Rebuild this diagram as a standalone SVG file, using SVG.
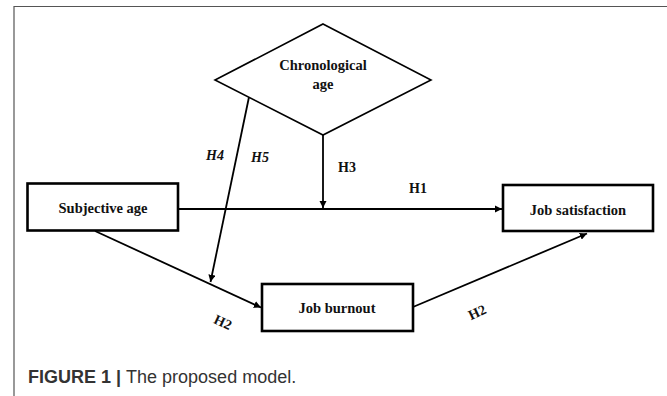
<svg xmlns="http://www.w3.org/2000/svg" width="667" height="396" viewBox="0 0 667 396">
<style>
.box{fill:#fff;stroke:#000;stroke-width:2.6}
.lbl{font-family:"Liberation Serif",serif;font-weight:bold;font-size:14.5px;fill:#111;text-anchor:middle}
.h{font-family:"Liberation Serif",serif;font-weight:bold;font-size:14px;fill:#111;text-anchor:middle}
.ln{stroke:#000;stroke-width:1.8;fill:none;marker-end:url(#ah)}
</style>
<defs>
<marker id="ah" viewBox="0 0 10 10" refX="10" refY="5" markerWidth="4" markerHeight="4" orient="auto" markerUnits="strokeWidth">
<path d="M0,0 L10,5 L0,10 z" fill="#000"/>
</marker>
</defs>
<rect width="667" height="396" fill="#fff"/>
<path d="M14,396 V6.5 H667" fill="none" stroke="#555" stroke-width="1.2"/>
<g id="connectors">
<line class="ln" x1="179" y1="209" x2="502" y2="209"/>
<line class="ln" x1="323" y1="135" x2="323" y2="208"/>
<line class="ln" x1="249" y1="97" x2="210.5" y2="282"/>
<line class="ln" x1="95" y1="231" x2="261" y2="307.5"/>
<line class="ln" x1="413" y1="307" x2="587" y2="233.5"/>
<text class="h" x="418" y="193">H1</text>
<text class="h" x="347" y="172">H3</text>
<text class="h" x="215" y="160" font-style="italic">H4</text>
<text class="h" x="260" y="162" font-style="italic">H5</text>
<text class="h" transform="translate(223,322) rotate(25)" y="5">H2</text>
<text class="h" transform="translate(477,312) rotate(-25)" y="5">H2</text>
</g>
<g id="chronological-age">
<polygon points="323,24 431,80 323,135 215,80" fill="#fff" stroke="#000" stroke-width="1.6"/>
<text class="lbl" x="323" y="70">Chronological</text>
<text class="lbl" x="323" y="89">age</text>
</g>
<g id="subjective-age">
<rect class="box" x="27.5" y="183.5" width="150.5" height="47"/>
<text class="lbl" x="103" y="213">Subjective age</text>
</g>
<g id="job-satisfaction">
<rect class="box" x="503" y="185" width="150" height="46"/>
<text class="lbl" x="578" y="215">Job satisfaction</text>
</g>
<g id="job-burnout">
<rect class="box" x="262" y="284" width="151" height="47"/>
<text class="lbl" x="337" y="313">Job burnout</text>
</g>
<text x="28" y="383" font-family="'Liberation Sans',Arial,sans-serif" font-size="18" fill="#333"><tspan font-weight="bold">FIGURE 1 | </tspan>The proposed model.</text>
</svg>
